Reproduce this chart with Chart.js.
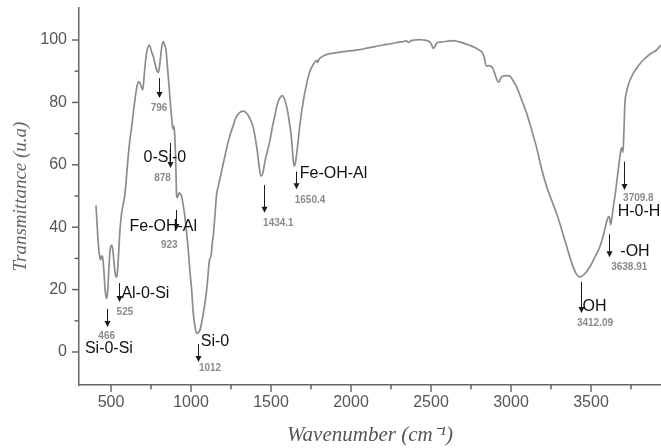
<!DOCTYPE html>
<html><head><meta charset="utf-8">
<script src="https://cdn.jsdelivr.net/npm/chart.js@4"></script>
<style>html,body{margin:0;padding:0;background:#fff}canvas{display:block}</style>
</head><body>
<canvas id="c" width="661" height="448"></canvas>
<script>
// ---- data ----
const wavenumbers = [406,412,420,428,435,441,447,452,458,465,473,480,487,494,504,512,520,527,535,541,548,556,565,575,587,598,608,618,629,640,650,660,671,680,690,698,705,712,720,727,740,752,765,777,787,796,803,810,818,827,836,844,851,858,866,873,880,885,889,893,897,901,906,910,915,921,927,935,942,952,962,972,983,993,1004,1014,1025,1035,1045,1056,1066,1077,1088,1098,1107,1114,1120,1126,1133,1139,1150,1160,1170,1185,1202,1217,1233,1250,1264,1280,1296,1312,1327,1342,1358,1374,1389,1402,1414,1426,1437,1450,1462,1478,1494,1510,1525,1540,1556,1570,1585,1602,1615,1629,1638,1644,1652,1664,1681,1702,1723,1740,1757,1775,1785,1792,1800,1817,1850,1890,1950,2000,2056,2100,2150,2200,2250,2300,2327,2345,2360,2375,2400,2430,2452,2475,2495,2505,2515,2525,2535,2556,2600,2640,2670,2700,2740,2770,2800,2820,2833,2840,2848,2860,2875,2888,2898,2910,2920,2927,2935,2945,2970,2994,3010,3035,3065,3098,3130,3160,3190,3223,3255,3285,3315,3348,3380,3405,3431,3460,3494,3525,3556,3580,3598,3610,3616,3623,3632,3640,3655,3670,3683,3690,3695,3700,3706,3712,3722,3733,3748,3764,3800,3827,3870,3910,3937];
const transmittance = [47,42,35,31,29.5,30.8,30.5,28.5,24,19,17.2,20,27,32.5,34.3,32.5,28,25,24,26,32,39,44,47,50.5,57,63,68,72,77,81,84.5,86.6,86.3,85,84,87,91.4,95,97,98.4,96.5,94.6,92,90.2,89.6,91.5,94.6,98,99.5,98.3,96.8,92.5,88.2,83,78.6,74.5,72,71.5,72.4,70.5,66.5,58,50,49.5,50.5,51,50.5,49.8,46.8,43.4,38.5,32.7,26,19.9,12.5,8.1,6,6.2,7,9.2,12.4,16,19.9,25,29,30.2,31,35,37,44,50.5,53,56.5,60.5,64,67.5,70.5,72.6,75,76.3,77,77.2,76.8,75.8,74.2,72,68.5,64.5,59.5,56.4,57.5,61,64.5,68,72.5,76,79.5,81.5,82.2,81,77.6,73.5,68,62,59.6,60.5,65,73,80.5,86,89.5,91.5,93,93.5,92.8,93.8,94.6,95.4,95.8,96.3,96.6,96.9,97.4,97.9,98.4,98.8,99.3,99.5,99.7,99.2,99.8,100,100.1,100,99.8,99.3,98.3,97.3,98,99,99.3,99.6,99.8,99.5,99.1,98.3,97.7,96.8,96,94.5,92.5,91.6,91.8,91.6,90.8,89.3,87.5,86.6,86.6,87.8,88.3,88.6,88.4,87.2,85,81,76.5,71,65.5,59,53,48.5,44.4,39.5,33.8,28.5,25.3,24.1,25,27.4,30.5,33.8,38,41.8,43.4,43,40.8,43.5,46.6,52,58.3,63.5,65.4,65.2,64,71,79.7,83.3,85.6,87.6,89.3,92,93.6,95.5,96.8,98.4];

const xTickValues = [500,750,1000,1250,1500,1750,2000,2250,2500,2750,3000,3250,3500,3750];
const yTickValues = [0,10,20,30,40,50,60,70,80,90,100];

// band assignments: arrow position (wavenumber), arrow top / tip (transmittance)
const peakLabels   = ['466','525','796','878','923','1012','1434.1','1650.4','3412.09','3638.91','3709.8'];
const arrowX       = [473,550,800,869,906,1044,1458,1656,3436,3614,3706];
const arrowTop     = [13.8,22.1,87.8,67,45.5,2.6,53.5,57.8,22.5,37.8,61];
const arrowTip     = [8,16,81.4,59,39.1,-3.2,44.6,52.2,12.5,30.4,51.9];
const peakLabelX   = [473,587,800,822,864,1119,1546,1744,3525,3739,3796];
const peakLabelY   = [5.2,12.8,78.2,55.8,34.3,-5.1,41.3,48.5,9.3,27.1,49.3];

const groupLabels  = ['Si-0-Si','Al-0-Si','0-Si-0','Fe-OH-Al','Si-0','Fe-OH-Al','OH','-OH','H-0-H'];
const groupLabelX  = [487,715,837,827,1150,1891,3522,3775,3800];
const groupLabelY  = [1.0,18.6,62.2,40.2,3.2,57.3,14.7,32.1,45];

// ---- plugins ----
const tickMarks = {
  id: 'tickMarks',
  afterDraw(chart) {
    const {ctx, scales: {x, y}} = chart;
    ctx.save();
    ctx.strokeStyle = '#666';
    ctx.lineWidth = 1.5;
    const yb = y.getPixelForValue(y.min);
    xTickValues.forEach(v => {
      const px = x.getPixelForValue(v);
      const len = v % 500 === 0 ? 7 : 4.5;
      ctx.beginPath(); ctx.moveTo(px, yb); ctx.lineTo(px, yb + len); ctx.stroke();
    });
    const xl = x.getPixelForValue(x.min);
    yTickValues.forEach(v => {
      const py = y.getPixelForValue(v);
      const len = v % 20 === 0 ? 7 : 4.5;
      ctx.beginPath(); ctx.moveTo(xl, py); ctx.lineTo(xl - len, py); ctx.stroke();
    });
    ctx.restore();
  }
};

const annotations = {
  id: 'annotations',
  afterDatasetsDraw(chart) {
    const {ctx, scales: {x, y}} = chart;
    ctx.save();
    ctx.strokeStyle = '#1a1a1a';
    ctx.fillStyle = '#1a1a1a';
    ctx.lineWidth = 1;
    arrowX.forEach((wn, i) => {
      const px = Math.round(x.getPixelForValue(wn)) + 0.5;
      const y1 = y.getPixelForValue(arrowTop[i]);
      const y2 = y.getPixelForValue(arrowTip[i]);
      ctx.beginPath(); ctx.moveTo(px, y1); ctx.lineTo(px, y2 - 4); ctx.stroke();
      ctx.beginPath();
      ctx.moveTo(px - 3, y2 - 6); ctx.lineTo(px + 3, y2 - 6); ctx.lineTo(px, y2);
      ctx.closePath(); ctx.fill();
    });
    ctx.textAlign = 'center';
    ctx.textBaseline = 'middle';
    ctx.fillStyle = '#8a8a8a';
    ctx.font = 'bold 10px "Liberation Sans", Arial, sans-serif';
    peakLabels.forEach((t, i) => {
      ctx.fillText(t, x.getPixelForValue(peakLabelX[i]), y.getPixelForValue(peakLabelY[i]));
    });
    ctx.fillStyle = '#111';
    ctx.font = '16px "Liberation Sans", Arial, sans-serif';
    groupLabels.forEach((t, i) => {
      ctx.fillText(t, x.getPixelForValue(groupLabelX[i]), y.getPixelForValue(groupLabelY[i]));
    });
    ctx.restore();
  }
};

const points = wavenumbers.map((w, i) => ({x: w, y: transmittance[i]}));

new Chart(document.getElementById('c'), {
  type: 'line',
  data: {
    datasets: [{
      data: points,
      borderColor: '#8c8c8c',
      borderWidth: 1.7,
      pointRadius: 0,
      fill: false,
      cubicInterpolationMode: 'monotone'
    }]
  },
  options: {
    responsive: false,
    animation: false,
    devicePixelRatio: 1,
    layout: {padding: {left: 0, top: 8, right: 0, bottom: 0}},
    plugins: {legend: {display: false}, tooltip: {enabled: false}},
    scales: {
      x: {
        type: 'linear',
        min: 300,
        max: 3937.5,
        afterBuildTicks: s => { s.ticks = xTickValues.map(v => ({value: v})); },
        afterFit: s => { s.height = 63; s.paddingLeft = 0; s.paddingRight = 0; },
        grid: {display: false, drawTicks: false},
        border: {display: true, color: '#666', width: 1.5},
        ticks: {
          autoSkip: false, maxRotation: 0, padding: 8,
          color: '#555',
          font: {family: '"Liberation Sans", Arial, sans-serif', size: 16},
          callback: v => (v % 500 === 0 ? String(v) : '')
        },
        title: {
          display: true,
          text: 'Wavenumber (cm\u207B\u00B9)',
          color: '#555',
          font: {family: '"Liberation Serif", "Times New Roman", serif', size: 21, style: 'italic'},
          padding: {top: 0, bottom: 0}
        }
      },
      y: {
        min: -10.58,
        max: 110.26,
        afterBuildTicks: s => { s.ticks = yTickValues.map(v => ({value: v})); },
        afterFit: s => { s.width = 79; s.paddingTop = 0; s.paddingBottom = 0; },
        grid: {display: false, drawTicks: false},
        border: {display: true, color: '#666', width: 1.5},
        ticks: {
          autoSkip: false, padding: 12,
          color: '#555',
          font: {family: '"Liberation Sans", Arial, sans-serif', size: 16},
          callback: v => (v % 20 === 0 ? String(v) : '')
        },
        title: {
          display: true,
          text: 'Transmittance (u.a)',
          color: '#666',
          font: {family: '"Liberation Serif", "Times New Roman", serif', size: 19, style: 'italic'},
          padding: {top: 10, bottom: 0}
        }
      }
    }
  },
  plugins: [tickMarks, annotations]
});
</script>
</body></html>
